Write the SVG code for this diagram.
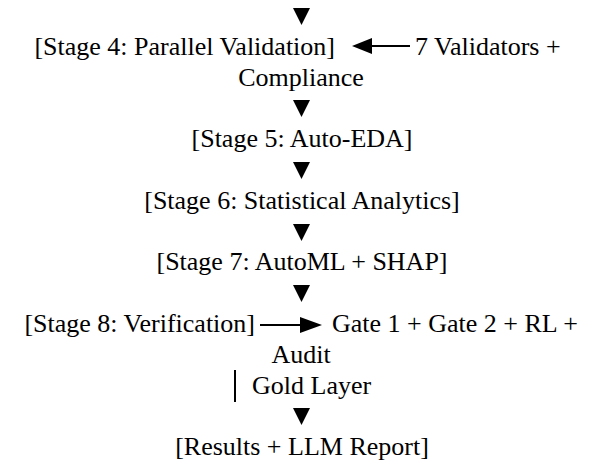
<svg xmlns="http://www.w3.org/2000/svg" width="596" height="464" viewBox="0 0 596 464">
<rect width="596" height="464" fill="#fff"/>
<g id="connectors" fill="#000" stroke="#000">
<polygon points="293,8 310,8 301.5,25" stroke="none"/>
<polygon points="293,100 310,100 301.5,117" stroke="none"/>
<polygon points="293,162 310,162 301.5,179" stroke="none"/>
<polygon points="293,224 310,224 301.5,241" stroke="none"/>
<polygon points="293,285 310,285 301.5,302" stroke="none"/>
<polygon points="293,408 310,408 301.5,425" stroke="none"/>
<polygon points="352,46 372,38 372,54" stroke="none"/>
<line x1="371" y1="46" x2="410" y2="46" stroke-width="2"/>
<polygon points="322,325 300,317 300,333" stroke="none"/>
<line x1="260" y1="325" x2="301" y2="325" stroke-width="2"/>
<line x1="235" y1="370" x2="235" y2="402" stroke-width="2"/>
</g>
<g font-family="Liberation Serif" font-size="26" fill="#000" text-anchor="middle">
<g id="stage4"><text text-anchor="end" x="335" y="55">[Stage 4: Parallel Validation]</text></g>
<g id="validators"><text text-anchor="start" x="415" y="55">7 Validators +</text><text x="301" y="86">Compliance</text></g>
<g id="stage5"><text x="302" y="147">[Stage 5: Auto-EDA]</text></g>
<g id="stage6"><text x="302" y="209">[Stage 6: Statistical Analytics]</text></g>
<g id="stage7"><text x="302" y="270">[Stage 7: AutoML + SHAP]</text></g>
<g id="stage8"><text text-anchor="end" x="255" y="332">[Stage 8: Verification]</text></g>
<g id="gates"><text text-anchor="start" x="332" y="332">Gate 1 + Gate 2 + RL +</text><text x="301" y="363">Audit</text></g>
<g id="gold"><text text-anchor="start" x="252" y="394">Gold Layer</text></g>
<g id="results"><text x="302" y="455">[Results + LLM Report]</text></g>
</g>
</svg>
